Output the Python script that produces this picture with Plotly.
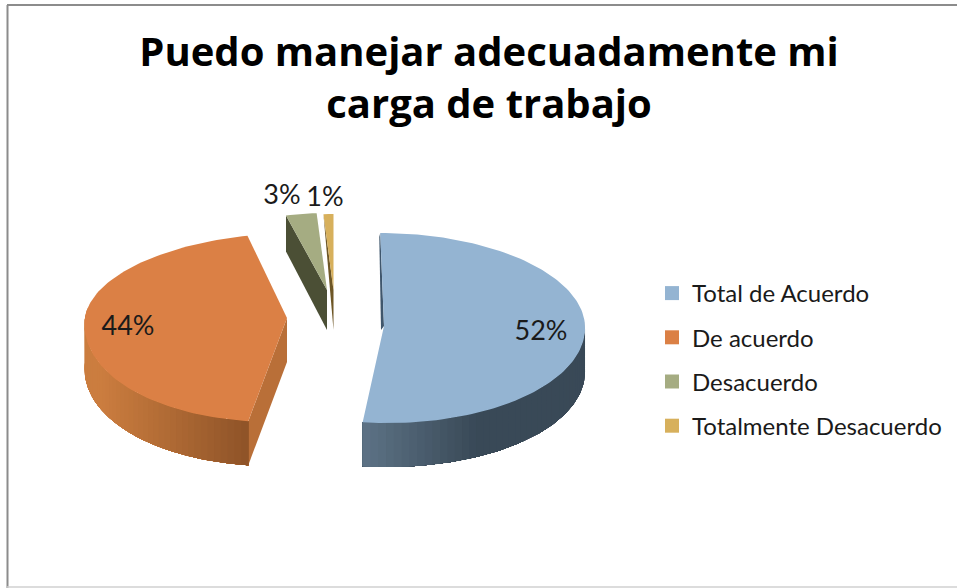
import math
import plotly.graph_objects as go

categories = ["Total de Acuerdo", "De acuerdo", "Desacuerdo", "Totalmente Desacuerdo"]
values = [52, 44, 3, 1]
colors = ["#94B4D2", "#DB8045", "#A5AC82", "#D7B05C"]
title = "Puedo manejar adecuadamente mi<br>carga de trabajo"

# projection of each exploded slice of the tilted 3-D pie, in picture units
views = [
    dict(ax=384, ay=326, rx=201, top=93, bot=97, k=0.04, cut="#3F566C", label=(541, 333),
         shade=("#5E7487", "#394957", 363, 480)),
    dict(ax=287, ay=318, rx=202, top=85, bot=104, k=-0.13, cut="#B96F38", label=(128, 328),
         shade=("#CB7D3F", "#8C5227", 100, 250)),
    dict(ax=327, ay=290, rx=165, top=77, bot=77, k=0.0, cut="#4B4F35", label=(282, 197), shade=None),
    dict(ax=333.5, ay=290, rx=160, top=76, bot=76, k=0.0, cut="#6E5726", label=(325, 199), shade=None),
]
depth = 44


def rim(v, deg):
    t = math.radians(deg)
    dx = v["rx"] * math.sin(t)
    c = math.cos(t)
    dy = -(v["top"] if c > 0 else v["bot"]) * c
    return v["ax"] + dx + v["k"] * dy, v["ay"] + dy


def mix(a, b, f):
    f = max(0.0, min(1.0, f))
    pa = [int(a[i:i + 2], 16) for i in (1, 3, 5)]
    pb = [int(b[i:i + 2], 16) for i in (1, 3, 5)]
    return "rgb(%d,%d,%d)" % tuple(round(x + (y - x) * f) for x, y in zip(pa, pb))


def poly(xs, ys, color):
    return go.Scatter(x=xs, y=ys, mode="lines", fill="toself", fillcolor=color,
                      line=dict(color=color, width=0), hoverinfo="skip", showlegend=False)


fig = go.Figure()
total = sum(values)
spans, start = [], 0.0
for val in values:
    spans.append((start, start + val / total * 360))
    start += val / total * 360

for idx in [1, 0, 2, 3]:
    v, color = views[idx], colors[idx]
    a0, a1 = spans[idx]
    n = max(2, int((a1 - a0) / 1.5))
    angles = [a0 + (a1 - a0) * i / n for i in range(n + 1)]

    # cut faces seen through the gap
    x0, y0 = rim(v, a0)
    if idx == 0:
        fig.add_trace(poly([x0, v["ax"], v["ax"] - 3, x0 - 1],
                           [y0, v["ay"], v["ay"] + 4, y0 + 4], v["cut"]))
    elif idx == 1:
        fig.add_trace(poly([x0, v["ax"], v["ax"], x0],
                           [y0, v["ay"], v["ay"] + depth, y0 + depth], v["cut"]))
    else:
        fig.add_trace(poly([x0, v["ax"], v["ax"], x0],
                           [y0, v["ay"], v["ay"] + 40, y0 + (36 if idx == 2 else 0)], v["cut"]))

    # curved outer wall: painted in overlapping runs so the shading has no seams
    if idx < 2:
        lo, hi = (87, a1) if idx == 0 else (a0, 278)
        run = [lo + (hi - lo) * i / 90 for i in range(91)]
        c0, c1, xa, xb = v["shade"]
        order = range(0, 90, 2) if idx == 0 else range(90, 0, -2)
        for s in order:
            part = run[s:] if idx == 0 else run[:s + 1]
            edge = [rim(v, a) for a in part]
            xs = [p[0] for p in edge] + [p[0] for p in reversed(edge)]
            ys = [p[1] for p in edge] + [p[1] + depth for p in reversed(edge)]
            px = rim(v, run[s])[0]
            fig.add_trace(poly(xs, ys, mix(c0, c1, (px - xa) / (xb - xa))))

    # top face
    pts = [rim(v, a) for a in angles]
    fig.add_trace(poly([v["ax"]] + [p[0] for p in pts] + [v["ax"]],
                       [v["ay"]] + [p[1] for p in pts] + [v["ay"]], color))

# percentage labels
for idx, val in enumerate(values):
    lx, ly = views[idx]["label"]
    fig.add_trace(go.Scatter(x=[lx], y=[ly], mode="text", text=[f"{val}%"],
                             textfont=dict(family="Lato", size=27, color="#1a1a1a"),
                             textposition="middle center", hoverinfo="skip", showlegend=False))

# legend entries
for name, color in zip(categories, colors):
    fig.add_trace(go.Scatter(x=[None], y=[None], mode="markers", name=name, legendgroup=name,
                             marker=dict(symbol="square", size=14, color=color)))

fig.update_layout(
    width=957, height=588, margin=dict(l=0, r=0, t=0, b=0),
    paper_bgcolor="white", plot_bgcolor="white",
    title=dict(text=title, x=0.511, xanchor="center", y=0.887, yanchor="top",
               font=dict(family="Open Sans", size=40, color="black", weight="bold")),
    xaxis=dict(range=[0, 957], visible=False, fixedrange=True),
    yaxis=dict(range=[588, 0], visible=False, fixedrange=True),
    legend=dict(x=652 / 957, xanchor="left", y=1 - 271 / 588, yanchor="top",
                font=dict(family="Lato", size=24, color="#1a1a1a"),
                itemsizing="trace", tracegroupgap=10, bgcolor="rgba(0,0,0,0)"),
    shapes=[
        dict(type="line", xref="paper", yref="paper", x0=7.5 / 957, x1=7.5 / 957, y0=0, y1=1 - 5 / 588,
             line=dict(color="#8C8C8C", width=2)),
        dict(type="line", xref="paper", yref="paper", x0=7 / 957, x1=1, y0=1 - 5 / 588, y1=1 - 5 / 588,
             line=dict(color="#8C8C8C", width=2)),
        dict(type="line", xref="paper", yref="paper", x0=7 / 957, x1=1, y0=1 - 587 / 588, y1=1 - 587 / 588,
             line=dict(color="#D0D0D0", width=1.5)),
    ],
)
fig.write_html("out.html", config={"displayModeBar": False},
               post_script="document.body.style.margin='0';")
